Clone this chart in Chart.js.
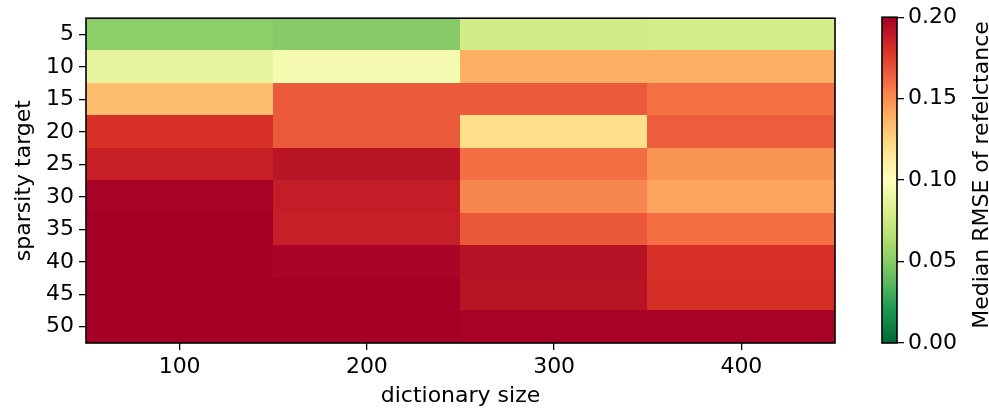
<!DOCTYPE html>
<html>
<head>
<meta charset="utf-8">
<script src="https://cdn.jsdelivr.net/npm/chart.js@4.4.1/dist/chart.umd.min.js"></script>
<style>
  html, body { margin: 0; padding: 0; background: #fff; }
  #wrap { position: relative; width: 989px; height: 409px; }
  #main { position: absolute; left: 0; top: 0; }
  #cbar { position: absolute; left: 860px; top: 0; }
</style>
</head>
<body>
<div id="wrap">
  <canvas id="main" width="860" height="409"></canvas>
  <canvas id="cbar" width="129" height="409"></canvas>
</div>
<script>
// dictionary sizes (columns) and sparsity targets (rows)
const dictSizes = [100, 200, 300, 400];
const sparsity = [5, 10, 15, 20, 25, 30, 35, 40, 45, 50];
// median RMSE, one row per sparsity target, one value per dictionary size
const rmse5  = [0.052, 0.050, 0.077, 0.079];
const rmse10 = [0.088, 0.094, 0.139, 0.139];
const rmse15 = [0.134, 0.166, 0.166, 0.159];
const rmse20 = [0.180, 0.166, 0.120, 0.165];
const rmse25 = [0.187, 0.192, 0.160, 0.148];
const rmse30 = [0.199, 0.188, 0.152, 0.143];
const rmse35 = [0.200, 0.187, 0.167, 0.160];
const rmse40 = [0.200, 0.198, 0.193, 0.180];
const rmse45 = [0.200, 0.200, 0.192, 0.181];
const rmse50 = [0.200, 0.200, 0.199, 0.199];
const rmse = [rmse5, rmse10, rmse15, rmse20, rmse25, rmse30, rmse35, rmse40, rmse45, rmse50];
const cbarTicks = [0, 0.05, 0.10, 0.15, 0.20];
const vmin = 0, vmax = 0.2;

const FONT = "'DejaVu Sans', sans-serif";
const FS = 22;

// RdYlGn stops, used reversed
const rdylgn = [
  [165, 0, 38], [215, 48, 39], [244, 109, 67], [253, 174, 97], [254, 224, 139],
  [255, 255, 191], [217, 239, 139], [166, 217, 106], [102, 189, 99], [26, 152, 80], [0, 104, 55]
];
function cmap(v) {
  let t = (v - vmin) / (vmax - vmin);
  t = Math.max(0, Math.min(1, t));
  const p = (1 - t) * (rdylgn.length - 1);
  const i = Math.min(Math.floor(p), rdylgn.length - 2);
  const f = p - i;
  const a = rdylgn[i], b = rdylgn[i + 1];
  const c = a.map((x, k) => Math.round(x + (b[k] - x) * f));
  return 'rgb(' + c.join(',') + ')';
}

const cells = [];
sparsity.forEach((s, r) => dictSizes.forEach((d, c) => cells.push({ x: d, y: s, v: rmse[r][c] })));

const heatPlugin = {
  id: 'heat',
  beforeDatasetsDraw(chart) {
    const { ctx, scales: { x, y } } = chart;
    ctx.save();
    cells.forEach(p => {
      const x0 = Math.floor(x.getPixelForValue(p.x - 50));
      const x1 = Math.ceil(x.getPixelForValue(p.x + 50));
      const y0 = Math.floor(y.getPixelForValue(p.y - 2.5));
      const y1 = Math.ceil(y.getPixelForValue(p.y + 2.5));
      ctx.fillStyle = cmap(p.v);
      ctx.fillRect(x0, y0, x1 - x0, y1 - y0);
    });
    ctx.restore();
  },
  afterDatasetsDraw(chart) {
    const { ctx, chartArea: a } = chart;
    ctx.save();
    ctx.strokeStyle = '#000';
    ctx.lineWidth = 1.6;
    ctx.strokeRect(a.left, a.top, a.right - a.left, a.bottom - a.top);
    ctx.restore();
  }
};

new Chart(document.getElementById('main'), {
  type: 'scatter',
  data: { datasets: [{ data: cells, pointRadius: 0 }] },
  options: {
    responsive: false,
    animation: false,
    layout: { padding: { top: 16, right: 25, left: 0, bottom: 0 } },
    plugins: { legend: { display: false }, tooltip: { enabled: false } },
    scales: {
      x: {
        type: 'linear', min: 50, max: 450,
        afterBuildTicks: s => { s.ticks = dictSizes.map(v => ({ value: v })); },
        afterFit: s => { s.height = 66; },
        grid: { drawOnChartArea: false, drawTicks: true, tickLength: 7, color: '#000', lineWidth: 1.3 },
        border: { display: false },
        ticks: { color: '#000', font: { family: FONT, size: FS }, padding: 4, maxRotation: 0 },
        title: { display: true, text: 'dictionary size', color: '#000', font: { family: FONT, size: FS }, padding: { top: 0, bottom: 0 } }
      },
      y: {
        type: 'linear', min: 2.5, max: 52.5, reverse: true,
        afterBuildTicks: s => { s.ticks = sparsity.map(v => ({ value: v })); },
        afterFit: s => { s.width = 86; },
        grid: { drawOnChartArea: false, drawTicks: true, tickLength: 7, color: '#000', lineWidth: 1.3 },
        border: { display: false },
        ticks: { color: '#000', font: { family: FONT, size: FS }, padding: 5 },
        title: { display: true, text: 'sparsity target', color: '#000', font: { family: FONT, size: FS }, padding: { top: 11, bottom: 0 } }
      }
    }
  },
  plugins: [heatPlugin]
});

const cbarPlugin = {
  id: 'cbarFill',
  beforeDatasetsDraw(chart) {
    const { ctx, chartArea: a, scales: { y } } = chart;
    const y0 = y.getPixelForValue(vmin), y1 = y.getPixelForValue(vmax);
    const g = ctx.createLinearGradient(0, y0, 0, y1);
    for (let i = 0; i <= 20; i++) {
      const v = vmin + (vmax - vmin) * i / 20;
      g.addColorStop(i / 20, cmap(v));
    }
    ctx.save();
    ctx.fillStyle = g;
    ctx.fillRect(a.left, y1, a.right - a.left, y0 - y1);
    ctx.strokeStyle = '#000';
    ctx.lineWidth = 1.6;
    ctx.strokeRect(a.left, a.top, a.right - a.left, a.bottom - a.top);
    // colorbar label, reading bottom to top
    ctx.translate(122, 175);
    ctx.rotate(-Math.PI / 2);
    ctx.fillStyle = '#000';
    ctx.font = FS + 'px ' + FONT;
    ctx.textAlign = 'center';
    ctx.textBaseline = 'middle';
    ctx.fillText('Median RMSE of refelctance', 0, 0);
    ctx.restore();
  }
};

new Chart(document.getElementById('cbar'), {
  type: 'scatter',
  data: { datasets: [{ data: [], pointRadius: 0 }] },
  options: {
    responsive: false,
    animation: false,
    layout: { padding: { top: 16, bottom: 66, left: 22, right: 0 } },
    plugins: { legend: { display: false }, tooltip: { enabled: false } },
    scales: {
      x: { display: false, min: 0, max: 1 },
      y: {
        position: 'right', min: vmin, max: vmax,
        afterBuildTicks: s => { s.ticks = cbarTicks.map(v => ({ value: v })); },
        afterFit: s => { s.width = 92; },
        grid: { drawOnChartArea: false, drawTicks: true, tickLength: 7, color: '#000', lineWidth: 1.3 },
        border: { display: false },
        ticks: { color: '#000', font: { family: FONT, size: FS }, padding: 4, callback: v => v.toFixed(2) }
      }
    }
  },
  plugins: [cbarPlugin]
});
</script>
</body>
</html>
